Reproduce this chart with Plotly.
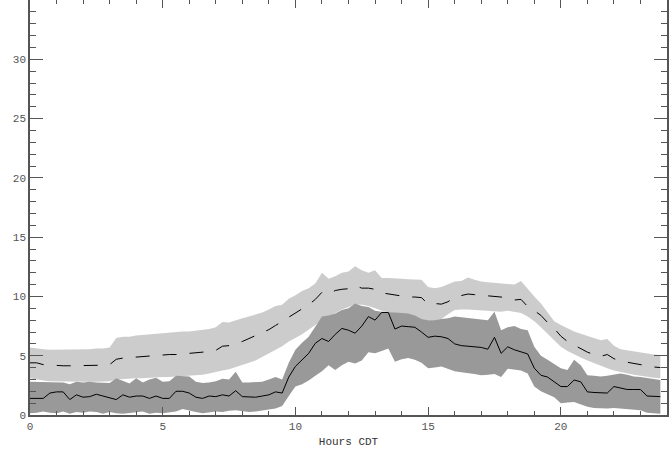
import plotly.graph_objects as go

hours = [0.0, 0.25, 0.5, 0.75, 1.0, 1.25, 1.5, 1.75, 2.0, 2.25, 2.5, 2.75,
         3.0, 3.25, 3.5, 3.75, 4.0, 4.25, 4.5, 4.75, 5.0, 5.25, 5.5, 5.75,
         6.0, 6.25, 6.5, 6.75, 7.0, 7.25, 7.5, 7.75, 8.0, 8.25, 8.5, 8.75,
         9.0, 9.25, 9.5, 9.75, 10.0, 10.25, 10.5, 10.75, 11.0, 11.25, 11.5, 11.75,
         12.0, 12.25, 12.5, 12.75, 13.0, 13.25, 13.5, 13.75, 14.0, 14.25, 14.5, 14.75,
         15.0, 15.25, 15.5, 15.75, 16.0, 16.25, 16.5, 16.75, 17.0, 17.25, 17.5, 17.75,
         18.0, 18.25, 18.5, 18.75, 19.0, 19.25, 19.5, 19.75, 20.0, 20.25, 20.5, 20.75,
         21.0, 21.25, 21.5, 21.75, 22.0, 22.25, 22.5, 22.75, 23.0, 23.25, 23.5, 23.75]

# light band (upper / lower) and its dashed centre line
light_upper = [5.7, 5.6, 5.55, 5.5, 5.5, 5.5, 5.5, 5.52, 5.55, 5.55, 5.6, 5.6,
               5.7, 6.5, 6.6, 6.6, 6.7, 6.75, 6.8, 6.9, 6.95, 7.0, 7.0, 7.05,
               7.05, 7.1, 7.15, 7.25, 7.4, 7.85, 7.8, 8.0, 8.15, 8.3, 8.45, 8.65,
               8.9, 9.2, 9.3, 9.8, 10.1, 10.45, 10.7, 11.1, 12.0, 11.5, 11.7, 12.0,
               12.1, 12.55, 12.2, 12.0, 12.2, 11.55, 11.55, 11.55, 11.5, 11.45, 11.4, 11.4,
               10.8, 10.7, 10.8, 11.0, 11.25, 11.3, 11.6, 11.4, 11.25, 11.2, 11.15, 11.1,
               11.05, 11.0, 11.3, 10.6, 10.0, 9.4, 8.7, 7.9, 7.6, 7.3, 7.05, 6.85,
               6.65, 6.45, 6.3, 6.4, 5.85, 5.55, 5.45, 5.35, 5.3, 5.2, 5.1, 5.05]
light_lower = [3.1, 3.0, 2.9, 2.85, 2.8, 2.8, 2.8, 2.8, 2.8, 2.8, 2.8, 2.8,
               2.85, 3.0, 3.05, 3.05, 3.1, 3.1, 3.15, 3.15, 3.2, 3.2, 3.25, 3.3,
               3.3, 3.35, 3.4, 3.5, 3.6, 3.75, 3.85, 4.0, 4.2, 4.4, 4.6, 4.85,
               5.2, 5.5, 5.8, 6.2, 6.5, 6.8, 7.2, 7.6, 8.0, 8.3, 8.6, 8.9,
               9.1, 9.35, 9.3, 9.2, 9.0, 8.8, 8.7, 8.6, 8.5, 8.4, 8.1, 8.0,
               8.0, 7.95, 8.1, 8.5, 8.85, 8.9, 8.9, 8.85, 8.85, 8.8, 8.75, 8.7,
               8.8, 8.7, 8.6, 8.3, 7.9, 7.4, 6.9, 6.3, 5.75, 5.4, 5.1, 4.85,
               4.6, 4.35, 4.15, 3.95, 3.75, 3.6, 3.5, 3.4, 3.3, 3.2, 3.15, 3.1]
light_mean = [4.4, 4.4, 4.25, 4.2, 4.15, 4.15, 4.15, 4.15, 4.15, 4.2, 4.2, 4.2,
              4.25, 4.7, 4.8, 4.85, 4.9, 4.9, 4.95, 5.0, 5.05, 5.1, 5.1, 5.15,
              5.15, 5.2, 5.25, 5.35, 5.45, 5.8, 5.85, 6.0, 6.2, 6.45, 6.7, 6.9,
              7.2, 7.55, 7.9, 8.25, 8.6, 9.0, 9.3, 9.75, 10.35, 10.2, 10.5, 10.6,
              10.65, 10.9, 10.7, 10.7, 10.6, 10.3, 10.2, 10.1, 10.0, 9.95, 9.95, 9.9,
              9.35, 9.4, 9.35, 9.55, 9.95, 10.05, 10.2, 10.15, 10.1, 10.05, 10.05, 9.95,
              9.85, 9.7, 9.75, 9.15, 8.8, 8.4, 7.8, 7.3, 6.65, 6.2, 5.9, 5.6,
              5.3, 5.1, 4.95, 5.1, 4.75, 4.55, 4.45, 4.35, 4.2, 4.15, 4.05, 4.0]

# dark band (upper / lower) and its solid centre line
dark_upper = [2.8, 2.8, 2.75, 2.8, 2.8, 2.75, 2.6, 2.8, 2.75, 2.8, 2.75, 2.75,
              2.7, 3.1, 2.9, 2.65, 3.1, 2.75, 3.0, 3.15, 2.8, 2.85, 3.3, 3.3,
              3.25, 2.8, 2.7, 2.75, 2.85, 3.05, 3.0, 3.65, 2.75, 2.75, 2.75, 2.8,
              3.0, 3.2, 3.0, 4.4, 5.5, 6.1, 6.6, 7.4, 8.3, 8.4, 8.55, 8.85,
              9.0, 9.4, 9.2, 9.1, 8.8, 8.7, 8.7, 8.65, 8.6, 8.55, 8.4, 8.1,
              8.0, 8.0, 8.1, 8.15, 8.3, 8.25, 8.2, 8.15, 8.05, 8.0, 8.7, 7.15,
              7.4, 7.5, 7.25, 7.15, 5.75, 5.0, 4.65, 4.3, 3.95, 3.8, 4.65, 4.2,
              3.35, 3.3, 3.25, 3.3, 3.4, 3.5, 3.4, 3.25, 3.2, 3.1, 3.0, 2.95]
dark_lower = [0.15, 0.2, 0.3, 0.2, 0.15, 0.3, 0.1, 0.25, 0.2, 0.3, 0.25, 0.1,
              0.25, 0.15, 0.1, 0.2, 0.25, 0.3, 0.1, 0.2, 0.15, 0.2, 0.3, 0.5,
              0.4, 0.25, 0.15, 0.2, 0.3, 0.25, 0.35, 0.4, 0.35, 0.25, 0.3, 0.35,
              0.45, 0.55, 0.75, 1.6, 2.4, 2.6, 2.9, 3.3, 3.7, 4.2, 3.8, 4.2,
              4.5, 4.35, 4.6, 5.3, 5.2, 5.4, 5.6, 4.5, 4.7, 4.8, 4.65, 4.4,
              3.95, 4.0, 4.1, 3.9, 3.7, 3.6, 3.5, 3.45, 3.35, 3.4, 3.45, 3.2,
              3.9, 3.85, 3.75, 3.5, 2.4, 2.0, 1.75, 1.5, 1.0, 1.05, 1.1, 0.9,
              0.7, 0.6, 0.55, 0.55, 0.6, 0.6, 0.5, 0.45, 0.4, 0.2, 0.15, 0.1]
dark_mean = [1.4, 1.4, 1.4, 1.85, 1.95, 1.95, 1.3, 1.7, 1.5, 1.55, 1.75, 1.6,
             1.45, 1.3, 1.7, 1.5, 1.6, 1.6, 1.4, 1.6, 1.4, 1.4, 2.0, 2.0,
             1.85, 1.5, 1.4, 1.6, 1.55, 1.7, 1.6, 2.05, 1.55, 1.5, 1.5, 1.6,
             1.7, 1.95, 1.85, 3.2, 4.1, 4.65, 5.2, 6.05, 6.45, 6.2, 6.8, 7.3,
             7.15, 6.9, 7.5, 8.3, 8.0, 8.65, 8.65, 7.25, 7.5, 7.45, 7.4, 7.0,
             6.55, 6.65, 6.6, 6.45, 6.0, 5.85, 5.8, 5.75, 5.7, 5.55, 6.55, 5.2,
             5.75, 5.5, 5.35, 5.15, 3.95, 3.35, 3.2, 2.8, 2.4, 2.4, 2.95, 2.8,
             1.95, 1.9, 1.85, 1.85, 2.4, 2.25, 2.15, 2.15, 2.15, 1.6, 1.55, 1.55]

x_title = "Hours CDT"

fig = go.Figure()

fig.add_trace(go.Scatter(
    x=hours + hours[::-1], y=light_upper + light_lower[::-1],
    fill="toself", fillcolor="#cccccc", line=dict(width=0),
    mode="lines", hoverinfo="skip", showlegend=False))
fig.add_trace(go.Scatter(
    x=hours + hours[::-1], y=dark_upper + dark_lower[::-1],
    fill="toself", fillcolor="#999999", line=dict(width=0),
    mode="lines", hoverinfo="skip", showlegend=False))
fig.add_trace(go.Scatter(
    x=hours, y=light_mean, mode="lines",
    line=dict(color="black", width=1, dash="14px,13px"), showlegend=False))
fig.add_trace(go.Scatter(
    x=hours, y=dark_mean, mode="lines",
    line=dict(color="black", width=1), showlegend=False))

mono = "Liberation Mono, Courier New, monospace"
axis_font = dict(family=mono, size=11, color="#555555")

fig.update_layout(
    width=670, height=466,
    margin=dict(l=30, r=3, t=0, b=51, autoexpand=False),
    paper_bgcolor="white", plot_bgcolor="white",
    showlegend=False,
    xaxis=dict(
        range=[0, 24], tickmode="array", tickvals=[0, 5, 10, 15, 20],
        ticks="inside", ticklen=8, tickwidth=1.2, tickcolor="#555555",
        minor=dict(dtick=1, ticks="inside", ticklen=4, tickcolor="#555555", tickwidth=1.2, showgrid=False),
        showline=True, linecolor="#555555", linewidth=1.5, mirror="ticks",
        showgrid=False, zeroline=False, automargin=False,
        tickfont=axis_font,
        title=dict(text=x_title, font=dict(family=mono, size=11, color="#333333"), standoff=5),
    ),
    yaxis=dict(
        range=[0, 35], tickmode="array", tickvals=[0, 5, 10, 15, 20, 25, 30, 35],
        ticks="inside", ticklen=13, tickwidth=1.2, tickcolor="#555555",
        minor=dict(dtick=1, ticks="inside", ticklen=6, tickcolor="#555555", tickwidth=1.2, showgrid=False),
        showline=True, linecolor="#555555", linewidth=1.5, mirror="ticks",
        showgrid=False, zeroline=False, automargin=False,
        tickfont=axis_font,
    ),
)

fig.write_html(
    "out.html",
    config={"responsive": False, "displayModeBar": False},
    post_script="document.body.style.margin='0';document.body.style.overflow='hidden';",
)
